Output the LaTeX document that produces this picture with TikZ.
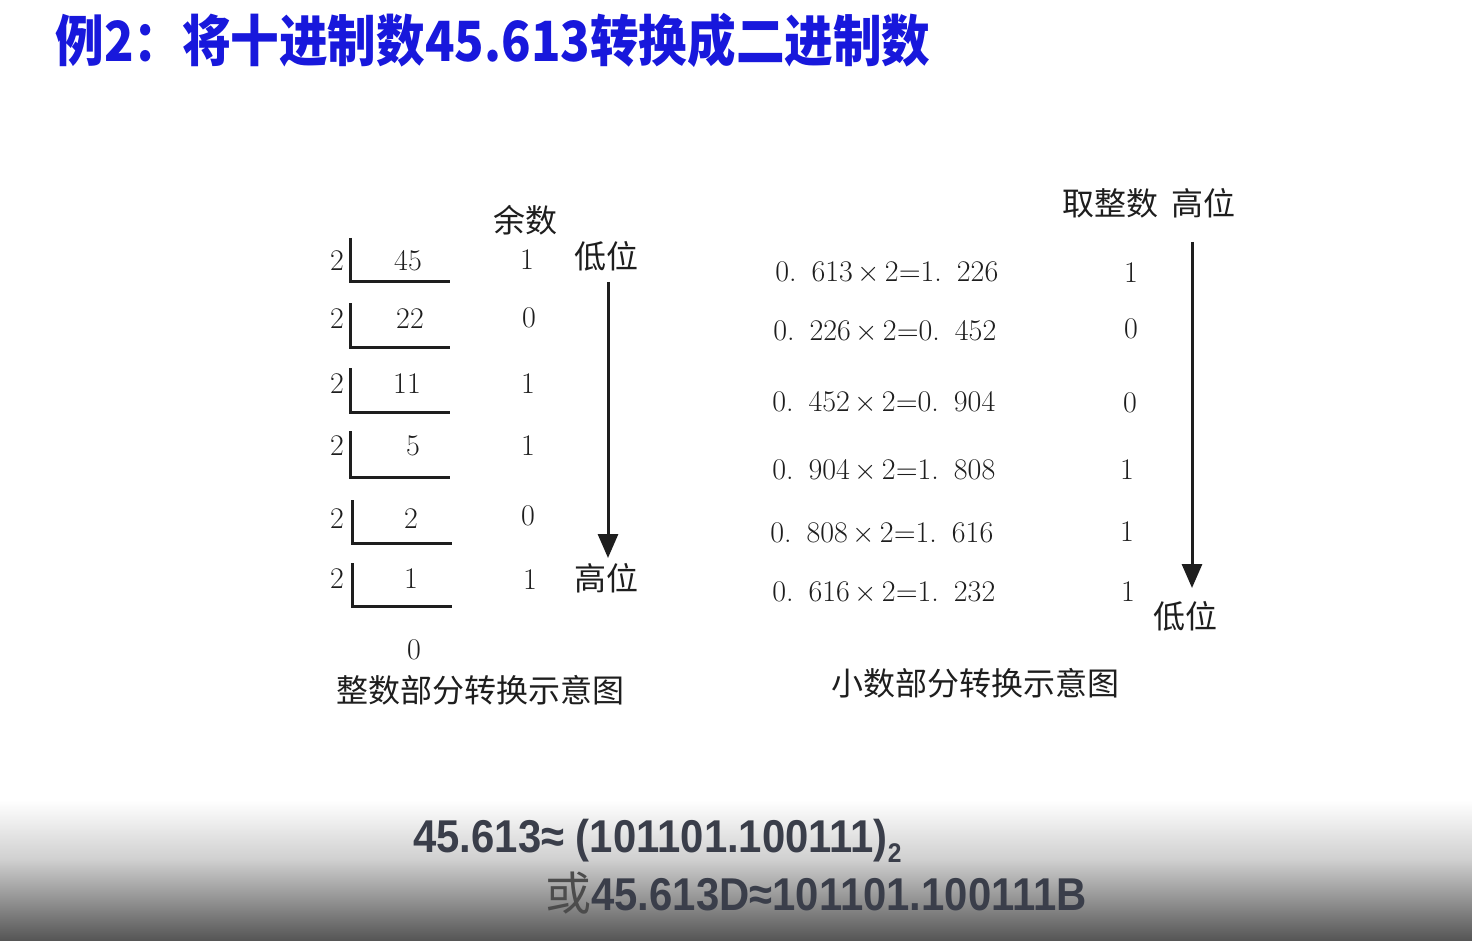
\documentclass[tikz,border=0pt]{standalone}
\usepackage{fontspec}
\usepackage{graphicx}
\setmainfont{Latin Modern Roman}
\setsansfont{Liberation Sans}
\newfontfamily\cjk{Noto Sans CJK SC}
\usetikzlibrary{arrows.meta}
\definecolor{titleblue}{RGB}{24,24,220}
\definecolor{inkc}{RGB}{30,30,30}
\definecolor{formc}{RGB}{58,62,74}
\tikzset{
  num/.style={inner sep=0pt, text=inkc, font=\fontsize{15pt}{18pt}\selectfont},
  cjktext/.style={inner sep=0pt, text=inkc, font=\cjk\fontsize{16pt}{19pt}\selectfont},
  bracket/.style={line width=1.5pt, draw=inkc},
  bitarrow/.style={line width=1.5pt, draw=inkc, -{Triangle[width=10pt,length=12pt]}},
  formula/.style={inner sep=0pt, text=formc, anchor=base west}
}
\begin{document}
\begin{tikzpicture}[x=0.5pt,y=-0.5pt]
\useasboundingbox (0,0) rectangle (1472,941);
\fill[white] (0,0) rectangle (1472,941);
\shade[top color=white, bottom color=black!19] (0,800) rectangle (1472,861);
\shade[top color=black!19, bottom color=black!67] (0,860) rectangle (1472,941);

% title
\node[inner sep=0pt, anchor=west, text=titleblue, font=\cjk\bfseries\fontsize{24.3pt}{30pt}\selectfont, yscale=1.14, transform shape] (title) at (55,40) {例2：将十进制数45.613转换成二进制数};

% ---------- integer part ----------
\node[cjktext] (yushu) at (525,220) {余数};
\foreach \i/\dy/\dx/\dv/\ry/\rx/\rv/\bx/\bt/\bb/\br in {
  1/261/408/45/260/527/1/350/238/282/450,
  2/319/410/22/318/529/0/350/303/347/450,
  3/384/407/11/384/528/1/350/368/412/450,
  4/446/413/5/446/528/1/350/431/477/450,
  5/519/411/2/516/528/0/352/500/543/452,
  6/579/411/1/580/530/1/352/563/606/452}{
  \node[num] (div\i) at (337,\dy) {2};
  \node[num] (q\i) at (\dx,\dy) {\dv};
  \node[num] (r\i) at (\rx,\ry) {\rv};
  \draw[bracket] (\bx,\bt) -- (\bx,\bb) -- (\br,\bb);
}
\node[num] (qlast) at (414,650) {0};
\node[cjktext] (low1) at (606,256) {低位};
\node[cjktext] (high1) at (606,578) {高位};
\coordinate (a1s) at (608,282);
\coordinate (a1e) at (608,558);
\draw[bitarrow] (a1s) -- (a1e);
\node[cjktext] (cap1) at (480,690) {整数部分转换示意图};

% ---------- fraction part ----------
\node[cjktext] (hdr2) at (1149,203) {取整数\hspace{0.4em}高位};
\foreach \i/\y/\x/\a/\b/\bxx/\byy/\bit in {
  1/273/775/613/1.\hspace{0.5em}226/1131/273/1,
  2/332/773/226/0.\hspace{0.5em}452/1131/329/0,
  3/403/772/452/0.\hspace{0.5em}904/1130/403/0,
  4/471/772/904/1.\hspace{0.5em}808/1127/470/1,
  5/534/770/808/1.\hspace{0.5em}616/1127/532/1,
  6/593/772/616/1.\hspace{0.5em}232/1128/592/1}{
  \node[num, anchor=west] (eq\i) at (\x,\y) {0.\hspace{0.5em}\a$\,\times\,$2${=}$\b};
  \node[num] (bit\i) at (\bxx,\byy) {\bit};
}
\coordinate (a2s) at (1192,242);
\coordinate (a2e) at (1192,588);
\draw[bitarrow] (a2s) -- (a2e);
\node[cjktext] (low2) at (1185,616) {低位};
\node[cjktext] (cap2) at (975,683) {小数部分转换示意图};

% ---------- result ----------
\node[formula, font=\sffamily\bfseries\fontsize{23pt}{28pt}\selectfont] (res1) at (413,852)
  {\scalebox{0.91}[1]{45.613≈ (101101.100111)\raisebox{-5pt}{\fontsize{13.5pt}{16pt}\selectfont 2}}};
\node[formula, font=\sffamily\bfseries\fontsize{23pt}{28pt}\selectfont] (res2) at (545,910)
  {{\cjk\mdseries\color{black!70}或}\scalebox{0.91}[1]{45.613D≈101101.100111B}};
\end{tikzpicture}
\end{document}
